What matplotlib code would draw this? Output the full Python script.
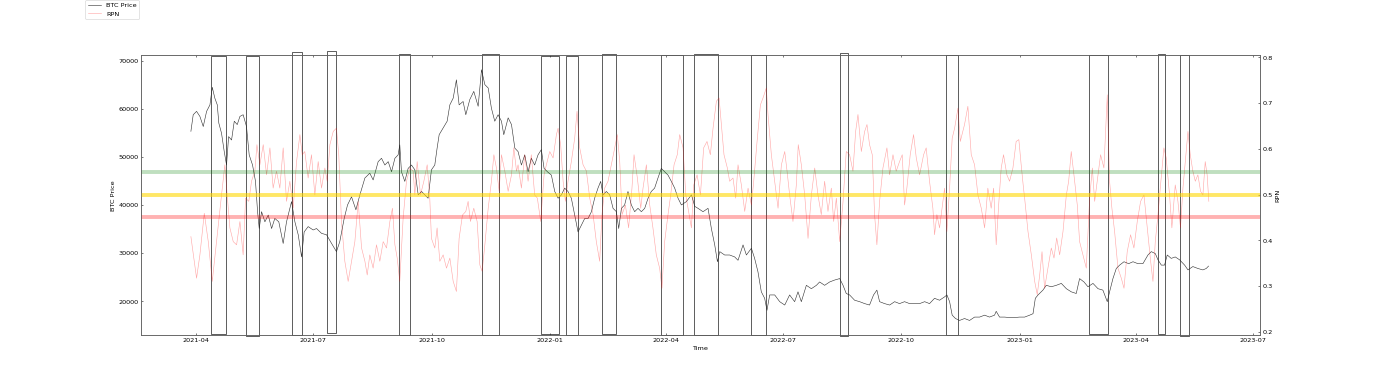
import numpy as np
import pandas as pd
import matplotlib
matplotlib.use("Agg")
import matplotlib.pyplot as plt
import matplotlib.dates as mdates
from matplotlib.patches import Rectangle

# day offsets are counted from t0
t0 = pd.Timestamp("2021-03-28")

btc_day = [0, 1.8, 4.4, 7.0, 9.6, 12.2, 14.8, 16.6, 18.6, 20.5, 21.7, 23.8, 25.9, 27.7, 29.3, 31.6,
           33.7, 36.0, 38.1, 40.6, 43.2, 45.3, 47.9, 50.2, 51.8, 53.1, 54.9, 57.5, 60.1, 62.7, 65.2,
           68.3, 71.7, 74.3, 78.2, 80.8, 83.4, 86.0, 88.0, 91.1, 95.0, 97.6, 101.5, 105.4, 109.3,
           113.1, 115.7, 119.1, 121.7, 124.8, 128.2, 131.3, 135.2, 139.0, 141.6, 145.5, 148.1,
           150.7, 153.3, 155.9, 158.5, 161.0, 162.3, 163.6, 166.2, 168.8, 171.4, 174.0, 176.6,
           179.2, 181.8, 184.3, 186.9, 189.5, 191.3, 192.9, 196.0, 199.1, 201.2, 203.8, 206.3,
           208.4, 211.5, 213.6, 216.7, 219.8, 223.2, 225.8, 228.4, 231.0, 233.5, 236.1, 238.7,
           241.3, 243.1, 246.5, 249.1, 251.7, 254.2, 256.8, 259.4, 262.0, 264.5, 267.1, 269.7,
           272.3, 274.4, 277.0, 280.1, 282.7, 285.3, 287.9, 290.4, 293.0, 295.6, 298.2, 300.8,
           303.4, 306.0, 308.6, 311.2, 313.7, 316.3, 318.4, 320.2, 322.8, 325.4, 328.0, 330.6,
           332.4, 334.5, 337.0, 339.6, 342.2, 344.8, 347.4, 350.0, 352.6, 355.2, 357.7, 360.3,
           362.9, 365.5, 368.1, 370.7, 373.3, 375.9, 378.5, 381.1, 385.0, 388.9, 391.5, 394.0,
           397.9, 401.8, 404.4, 407.0, 409.1, 410.9, 414.7, 418.6, 422.5, 425.1, 429.0, 431.6,
           435.5, 438.0, 440.6, 443.2, 445.8, 447.6, 449.7, 453.6, 457.5, 461.4, 465.2, 469.1,
           471.7, 474.3, 478.2, 482.1, 486.0, 488.5, 492.4, 496.3, 500.2, 504.1, 506.7, 509.2,
           511.8, 515.7, 519.6, 523.5, 527.3, 530.4, 533.0, 535.1, 539.0, 542.9, 546.8, 550.6,
           554.5, 558.4, 562.3, 566.2, 570.1, 573.9, 577.8, 581.7, 585.6, 587.4, 589.5, 591.5,
           594.1, 597.2, 601.1, 605.0, 608.9, 612.8, 616.7, 620.5, 624.4, 625.7, 628.3, 632.2,
           636.1, 640.0, 643.8, 647.8, 651.7, 654.3, 656.1, 658.2, 662.0, 664.6, 668.5, 672.4,
           676.3, 680.2, 684.0, 687.9, 690.5, 693.9, 697.0, 700.9, 704.8, 708.6, 712.0, 713.8,
           716.4, 719.0, 721.6, 725.0, 728.6, 732.0, 735.8, 739.7, 743.6, 746.2, 749.3, 751.4,
           754.0, 756.5, 758.6, 761.7, 764.8, 768.2, 772.1, 774.7, 778.5, 782.4, 786.3, 788.9,
           790.7]
btc_price = [55300, 58750, 59450, 58400, 56300, 59450, 60800, 64450, 62200, 60800, 57000, 54900,
             51100, 48300, 54200, 53500, 57400, 56700, 58400, 58750, 56300, 50400, 48300, 44900,
             38600, 35100, 38600, 36500, 37900, 35100, 37200, 36500, 32000, 36500, 40700, 36500,
             33800, 29200, 34400, 35500, 34800, 35100, 34100, 33800, 32000, 30300, 32400, 37200,
             40000, 41700, 39000, 42100, 45600, 46600, 45200, 49000, 49700, 48300, 49000, 46900,
             49700, 50400, 52500, 46900, 44900, 47600, 48300, 47300, 42100, 42800, 42100, 41400,
             47300, 48300, 51800, 54600, 56000, 57400, 60800, 62200, 66000, 60800, 61500, 58750,
             61900, 63600, 60500, 68100, 65000, 64300, 60100, 57400, 58750, 57400, 54600, 58100,
             56700, 51800, 51100, 48300, 50400, 46900, 49700, 48300, 50400, 51500, 47600, 46900,
             46200, 42800, 41400, 42100, 43500, 42800, 41400, 37900, 34400, 35800, 37200, 37200,
             38600, 41400, 43500, 44900, 42100, 42800, 42100, 39300, 38600, 35100, 39300, 40000,
             42800, 40000, 38600, 39300, 38600, 39300, 41400, 42800, 43500, 45600, 47600, 46900,
             46200, 44900, 43500, 41400, 40000, 40700, 42100, 39700, 39300, 38600, 39300, 35100,
             31700, 28200, 30300, 29600, 29600, 29200, 28500, 31700, 29600, 31000, 28900, 26100,
             21950, 20600, 18100, 21300, 21300, 19900, 19200, 21300, 19900, 21950, 19900, 23300,
             22600, 23300, 24000, 23300, 24000, 24400, 24700, 23300, 21600, 21300, 20200, 19900,
             19500, 19200, 21300, 22300, 19900, 19500, 19200, 19900, 19500, 19900, 19500, 19500,
             19500, 19900, 19500, 20600, 20200, 20900, 21300, 19900, 17100, 16400, 16000, 16400,
             16000, 16700, 16700, 17100, 16700, 17100, 17900, 16700, 16700, 16600, 16600, 16700,
             16700, 17100, 17400, 20600, 21300, 22300, 23300, 23000, 23300, 23700, 22600, 21950,
             21600, 24700, 24000, 23000, 23700, 22600, 22300, 19900, 21950, 24700, 26800, 27500,
             28200, 27800, 28200, 27800, 27800, 29600, 30300, 29900, 28600, 27500, 27500, 29600,
             28900, 29200, 28600, 27500, 26500, 27200, 26800, 26500, 26800, 27300]

rpn_day = [0, 4.4, 7.0, 10.4, 13.5, 16.6, 19.9, 23.8, 26.4, 28.2, 30.3, 32.9, 35.5, 38.1, 40.6,
           42.5, 45.0, 47.1, 49.7, 51.3, 53.6, 56.2, 58.8, 61.4, 63.9, 66.5, 69.1, 71.7, 74.3,
           76.9, 79.5, 82.1, 84.7, 86.5, 88.5, 91.1, 93.7, 96.3, 98.9, 101.5, 104.1, 105.9, 108.0,
           110.6, 113.1, 114.9, 117.0, 119.6, 122.2, 124.8, 127.4, 130.0, 132.6, 135.2, 137.0,
           139.0, 141.6, 144.2, 146.8, 149.4, 152.0, 154.6, 156.6, 158.5, 160.3, 162.3, 164.9,
           167.5, 170.1, 172.7, 174.0, 175.8, 178.4, 181.0, 183.6, 185.6, 186.9, 189.5, 191.3,
           193.4, 196.0, 198.6, 201.2, 203.8, 206.3, 208.4, 211.0, 213.6, 215.4, 217.2, 219.8,
           222.4, 224.5, 226.3, 228.4, 231.0, 233.5, 235.4, 237.4, 239.5, 241.3, 243.9, 246.5,
           249.1, 250.9, 253.0, 254.2, 256.8, 259.4, 262.0, 264.5, 267.1, 269.2, 271.8, 274.4,
           276.2, 278.8, 281.4, 284.0, 285.3, 287.3, 289.2, 291.0, 293.0, 295.6, 298.2, 300.0,
           302.1, 304.7, 307.3, 309.9, 312.5, 315.0, 317.6, 319.4, 321.5, 324.1, 326.7, 329.3,
           331.3, 333.2, 335.0, 337.6, 340.1, 342.7, 344.3, 346.9, 349.5, 351.3, 353.9, 356.5,
           359.0, 361.6, 364.2, 366.0, 368.1, 370.7, 372.8, 375.4, 377.9, 379.8, 382.4, 384.5,
           387.1, 388.9, 390.7, 393.3, 395.9, 398.4, 401.0, 403.6, 405.7, 408.3, 410.4, 412.2,
           414.2, 416.8, 418.6, 421.2, 423.3, 425.1, 427.7, 430.3, 432.9, 435.5, 437.3, 439.9,
           442.5, 444.5, 447.1, 448.4, 451.0, 453.6, 456.2, 458.8, 461.4, 463.2, 465.2, 467.8,
           470.4, 471.9, 474.3, 476.9, 479.5, 482.1, 484.7, 487.2, 489.8, 492.4, 495.0, 497.6,
           499.4, 501.5, 504.1, 506.7, 509.2, 511.8, 514.4, 516.5, 518.3, 520.9, 523.5, 525.3,
           527.3, 529.4, 531.2, 533.0, 535.1, 537.7, 540.8, 542.9, 545.5, 548.0, 550.6, 552.7,
           554.5, 556.3, 558.9, 561.5, 563.6, 566.2, 569.3, 571.3, 573.9, 576.5, 577.8, 579.6,
           581.7, 584.3, 585.6, 587.4, 589.5, 591.5, 593.4, 596.0, 597.8, 601.1, 603.7, 606.3,
           608.9, 611.5, 614.1, 616.7, 619.2, 621.8, 623.7, 625.7, 627.8, 629.6, 631.4, 634.0,
           636.1, 638.7, 641.2, 643.3, 645.1, 646.9, 647.8, 650.4, 653.0, 655.6, 657.6, 659.5,
           661.3, 663.3, 665.9, 668.5, 670.6, 672.7, 675.0, 677.6, 680.2, 682.0, 684.0, 686.1,
           688.7, 690.5, 693.1, 695.7, 698.3, 700.4, 702.2, 704.2, 706.8, 709.4, 712.0, 713.8,
           715.6, 717.7, 720.3, 722.9, 725.0, 727.5, 730.1, 732.7, 735.3, 737.9, 740.5, 743.1,
           745.7, 747.5, 749.3, 751.4, 753.4, 756.0, 757.8, 760.4, 762.2, 764.8, 766.9, 768.9,
           770.8, 772.6, 774.7, 776.5, 778.5, 780.4, 782.4, 784.5, 786.3, 788.1, 789.6, 790.9]
rpn_value = [0.408, 0.317, 0.368, 0.459, 0.397, 0.310, 0.397, 0.499, 0.565, 0.499, 0.427, 0.397,
             0.390, 0.441, 0.368, 0.492, 0.485, 0.529, 0.551, 0.609, 0.565, 0.609, 0.543, 0.602,
             0.514, 0.551, 0.514, 0.602, 0.485, 0.529, 0.470, 0.572, 0.631, 0.587, 0.594, 0.536,
             0.587, 0.499, 0.572, 0.514, 0.558, 0.529, 0.609, 0.638, 0.645, 0.587, 0.441, 0.354,
             0.310, 0.354, 0.397, 0.485, 0.383, 0.354, 0.324, 0.368, 0.339, 0.390, 0.354, 0.397,
             0.383, 0.441, 0.470, 0.390, 0.361, 0.310, 0.448, 0.529, 0.558, 0.551, 0.499, 0.572,
             0.499, 0.529, 0.565, 0.492, 0.404, 0.383, 0.427, 0.354, 0.368, 0.339, 0.361, 0.310,
             0.288, 0.404, 0.455, 0.463, 0.485, 0.441, 0.470, 0.441, 0.346, 0.332, 0.390, 0.470,
             0.529, 0.587, 0.558, 0.507, 0.587, 0.551, 0.507, 0.543, 0.602, 0.551, 0.565, 0.514,
             0.587, 0.529, 0.587, 0.499, 0.492, 0.441, 0.543, 0.565, 0.594, 0.580, 0.631, 0.645,
             0.609, 0.529, 0.485, 0.529, 0.572, 0.623, 0.682, 0.602, 0.565, 0.551, 0.492, 0.456,
             0.397, 0.354, 0.456, 0.514, 0.529, 0.565, 0.602, 0.631, 0.572, 0.456, 0.477, 0.427,
             0.514, 0.587, 0.536, 0.470, 0.514, 0.565, 0.477, 0.427, 0.368, 0.339, 0.295, 0.397,
             0.456, 0.499, 0.565, 0.587, 0.631, 0.602, 0.499, 0.456, 0.427, 0.521, 0.543, 0.499,
             0.602, 0.616, 0.587, 0.645, 0.704, 0.711, 0.653, 0.587, 0.558, 0.529, 0.536, 0.492,
             0.565, 0.521, 0.463, 0.514, 0.477, 0.529, 0.616, 0.696, 0.711, 0.733, 0.675, 0.587,
             0.529, 0.470, 0.565, 0.594, 0.551, 0.499, 0.441, 0.521, 0.609, 0.565, 0.499, 0.404,
             0.499, 0.558, 0.499, 0.456, 0.529, 0.463, 0.514, 0.441, 0.492, 0.397, 0.485, 0.594,
             0.587, 0.551, 0.638, 0.675, 0.594, 0.638, 0.653, 0.609, 0.587, 0.456, 0.390, 0.485,
             0.558, 0.602, 0.543, 0.587, 0.551, 0.572, 0.587, 0.477, 0.514, 0.587, 0.631, 0.580,
             0.543, 0.587, 0.602, 0.529, 0.470, 0.412, 0.456, 0.427, 0.485, 0.514, 0.419, 0.514,
             0.623, 0.645, 0.689, 0.616, 0.653, 0.693, 0.587, 0.565, 0.499, 0.470, 0.427, 0.514,
             0.470, 0.514, 0.390, 0.485, 0.558, 0.587, 0.543, 0.529, 0.558, 0.616, 0.620, 0.565,
             0.514, 0.492, 0.419, 0.368, 0.310, 0.281, 0.324, 0.375, 0.295, 0.339, 0.383, 0.361,
             0.405, 0.368, 0.419, 0.499, 0.529, 0.594, 0.543, 0.477, 0.397, 0.368, 0.339, 0.492,
             0.558, 0.485, 0.529, 0.587, 0.558, 0.718, 0.529, 0.470, 0.419, 0.339, 0.317, 0.295,
             0.375, 0.412, 0.383, 0.441, 0.485, 0.499, 0.427, 0.354, 0.310, 0.397, 0.456, 0.521,
             0.602, 0.580, 0.499, 0.427, 0.521, 0.485, 0.427, 0.514, 0.572, 0.638, 0.587, 0.551,
             0.529, 0.543, 0.507, 0.499, 0.572, 0.543, 0.485]

# boxed periods (day offsets) and their vertical extent in BTC units
event_start = [15.5, 42.5, 78.7, 105.4, 161.8, 225.8, 271.8, 291.3, 319.5, 365.6, 390.7,
               435.5, 504.1, 587.0, 697.7, 751.3, 768.7]
event_end = [27.0, 52.8, 86.4, 112.4, 170.1, 239.5, 286.1, 300.8, 330.6, 382.4, 409.6,
             447.1, 510.5, 596.0, 712.5, 756.5, 775.4]
event_lo = [13210, 12860, 12920, 13420, 12920, 12920, 13270, 12920, 13270, 12920, 12920,
            12920, 12710, 12920, 13210, 13210, 12860]
event_hi = [71040, 71040, 71720, 71930, 71390, 71390, 71040, 71040, 71390, 71100, 71390,
            71100, 71600, 71100, 71250, 71390, 71100]

levels = [0.55, 0.5, 0.45]
level_colors = ['green', 'gold', 'red']
level_alpha = [0.25, 0.6, 0.3]

btc_time = t0 + pd.to_timedelta(btc_day, unit='D')
rpn_time = t0 + pd.to_timedelta(rpn_day, unit='D')

fig, ax1 = plt.subplots(figsize=(30, 8))
fig.subplots_adjust(left=0.1005, right=0.9, top=0.851, bottom=0.1008)

l1, = ax1.plot(btc_time, btc_price, color='black', lw=0.9, alpha=0.8, label='BTC Price')
ax1.set_xlabel('Time')
ax1.set_ylabel('BTC Price')

ax2 = ax1.twinx()
l2, = ax2.plot(rpn_time, rpn_value, color='red', lw=0.9, alpha=0.35, label='RPN')
ax2.set_ylabel('RPN')
for lv, c, a in zip(levels, level_colors, level_alpha):
    ax2.axhline(lv, color=c, lw=6, alpha=a)

for s, e, lo, hi in zip(event_start, event_end, event_lo, event_hi):
    x0 = mdates.date2num(t0 + pd.Timedelta(days=s))
    x1 = mdates.date2num(t0 + pd.Timedelta(days=e))
    ax1.add_patch(Rectangle((x0, lo), x1 - x0, hi - lo, fill=False,
                            edgecolor='#222222', lw=1.1, clip_on=False, zorder=5))

ax1.set_xlim(pd.Timestamp('2021-02-17'), pd.Timestamp('2023-07-06 16:00'))
ax1.set_ylim(12900, 71100)
ax2.set_ylim(0.192, 0.8044)

ax1.tick_params(direction='in', top=True)
ax2.tick_params(direction='in')
for ax in (ax1, ax2):
    for sp in ax.spines.values():
        sp.set_color('#666666')
        sp.set_linewidth(1.2)

fig.legend(handles=[l1, l2], loc='upper left', bbox_to_anchor=(0.061, 1.0),
           borderaxespad=0)

fig.savefig('out.png', dpi=1400 / 30)
